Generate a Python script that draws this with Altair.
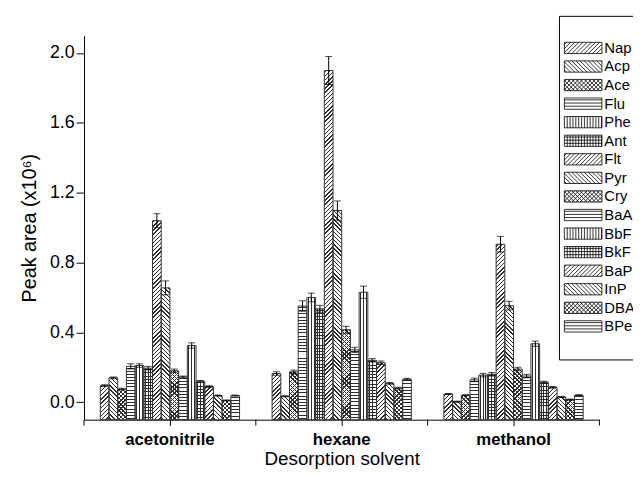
import altair as alt

# ---------------- data ----------------
solvents = ["acetonitrile", "hexane", "methanol"]
compounds = ["Nap", "Acp", "Ace", "Flu", "Phe", "Ant", "Flt", "Pyr",
             "Cry", "BaA", "BbF", "BkF", "BaP", "InP", "DBA", "BPe"]

acetonitrile = [0.095, 0.14, 0.075, 0.205, 0.21, 0.195, 1.04, 0.655,
                0.18, 0.145, 0.325, 0.12, 0.09, 0.038, 0.01, 0.038]
hexane = [0.164, 0.034, 0.174, 0.551, 0.60, 0.535, 1.90, 1.098,
          0.415, 0.30, 0.63, 0.24, 0.226, 0.108, 0.081, 0.132]
methanol = [0.047, 0.003, 0.04, 0.128, 0.155, 0.16, 0.905, 0.553,
            0.19, 0.15, 0.335, 0.115, 0.085, 0.03, 0.015, 0.04]

err_acetonitrile = [0.005, 0.005, 0.005, 0.015, 0.01, 0.01, 0.04, 0.04,
                    0.01, 0.005, 0.015, 0.005, 0.005, 0.003, 0.003, 0.003]
err_hexane = [0.01, 0.003, 0.01, 0.03, 0.025, 0.02, 0.08, 0.055,
              0.02, 0.015, 0.035, 0.01, 0.01, 0.005, 0.005, 0.005]
err_methanol = [0.003, 0.003, 0.003, 0.01, 0.01, 0.01, 0.045, 0.025,
                0.01, 0.01, 0.015, 0.005, 0.005, 0.003, 0.003, 0.003]

y_ticks = [0.0, 0.2, 0.4, 0.6, 0.8, 1.0, 1.2, 1.4, 1.6, 1.8, 2.0]

# hatch style of each compound
hatch = ["/", "\\", "x", "-", "|", "+", "/", "\\", "x", "-", "|", "+",
         "/", "\\", "x", "-"]

# ---------------- layout / style ----------------
W, H = 522, 389
Y_MIN, Y_MAX = -0.1, 2.1
PO = 0.87                      # outer padding of the compound offset scale
offset_domain = ["_padL"] + compounds + ["_padR"]
BAR_W = (W / 3) / (len(offset_domain) + 2 * PO)
INK = "#2e2e2e"
CLEAR = "rgba(255,255,255,0)"
DP, DLW = 4.2, 1.4            # diagonal period / width (in x+y units)
HP, HLW = 3.2, 1.0
VP, VLW = 2.9, 1.0
FONT = "Liberation Sans"


def stripes(L, period, lw):
    stops = [{"offset": 0, "color": CLEAR}]
    c = period / 2
    while c < L:
        a = max(0.0, (c - lw / 2) / L)
        b = min(1.0, (c + lw / 2) / L)
        stops += [{"offset": round(a, 5), "color": CLEAR},
                  {"offset": round(a, 5), "color": INK},
                  {"offset": round(b, 5), "color": INK},
                  {"offset": round(b, 5), "color": CLEAR}]
        c += period
    stops.append({"offset": 1, "color": CLEAR})
    return stops


def grad(kind, w, h):
    if kind == "-":
        return {"gradient": "linear", "x1": 0, "y1": 0, "x2": 0, "y2": 1,
                "stops": stripes(h, HP, HLW)}
    if kind == "|":
        return {"gradient": "linear", "x1": 0, "y1": 0, "x2": 1, "y2": 0,
                "stops": stripes(w, VP, VLW)}
    s = (w + h) / (w * w + h * h)
    if kind == "/":
        return {"gradient": "linear", "x1": 0, "y1": 0,
                "x2": round(s * w, 6), "y2": round(s * h, 6),
                "stops": stripes(w + h, DP, DLW)}
    return {"gradient": "linear", "x1": 0, "y1": 1,
            "x2": round(s * w, 6), "y2": round(1 - s * h, 6),
            "stops": stripes(w + h, DP, DLW)}


def layers(kind, w, h):
    if kind == "x":
        return grad("/", w, h), grad("\\", w, h)
    if kind == "+":
        return grad("-", w, h), grad("|", w, h)
    return grad(kind, w, h), None


rows = []
for s, vals, errs in zip(solvents, [acetonitrile, hexane, methanol],
                         [err_acetonitrile, err_hexane, err_methanol]):
    for i, c in enumerate(compounds):
        v, e = vals[i], errs[i]
        hpx = (v - Y_MIN) / (Y_MAX - Y_MIN) * H
        g1, g2 = layers(hatch[i], BAR_W, hpx)
        rows.append({"solvent": s, "compound": c, "value": v,
                     "lo": round(v - e, 4), "hi": round(v + e, 4),
                     "g1": g1, "g2": g2})


# legend swatches as custom symbol paths (6 px per unit at size 144)
def swatch_path(kind):
    x0, x1, y0, y1 = -27.0, 11.0, -5.7, 5.7
    u = 6.0
    segs = []

    def seg(ax, ay, bx, by):
        segs.append("M%.3f,%.3fL%.3f,%.3f" % (ax / u, ay / u, bx / u, by / u))

    if kind in ("/", "x"):
        c = x0 + y0 + DP / 2
        while c < x1 + y1:
            xa, xb = max(x0, c - y1), min(x1, c - y0)
            if xa < xb:
                seg(xa, c - xa, xb, c - xb)
            c += DP
    if kind in ("\\", "x"):
        c = x0 - y1 + DP / 2
        while c < x1 - y0:
            xa, xb = max(x0, c + y0), min(x1, c + y1)
            if xa < xb:
                seg(xa, xa - c, xb, xb - c)
            c += DP
    if kind in ("-", "+"):
        y = y0 + HP / 2 + 0.3
        while y < y1:
            seg(x0, y, x1, y)
            y += HP
    if kind in ("|", "+"):
        x = x0 + VP
        while x < x1:
            seg(x, y0, x, y1)
            x += VP
    rect = "M%.3f,%.3fL%.3f,%.3fL%.3f,%.3fL%.3f,%.3fZ" % (
        x0 / u, y0 / u, x1 / u, y0 / u, x1 / u, y1 / u, x0 / u, y1 / u)
    return rect + "".join(segs)


paths = [swatch_path(k) for k in hatch]

# ---------------- encodings ----------------
x_axis = alt.Axis(labelFontSize=17, labelFontWeight="bold", labelAngle=0,
                  labelPadding=6, tickSize=6, title="Desorption solvent",
                  titleFontSize=19, titleFontWeight="normal", titlePadding=2,
                  domainColor="black", tickColor="black", labelColor="black",
                  titleColor="black", grid=False)
y_axis = alt.Axis(values=y_ticks, labelOverlap=False,
                  labelExpr="round(datum.value*10) % 4 === 0 ? format(datum.value, '.1f') : ''",
                  tickSize={"condition": {"test": "round(datum.value*10) % 4 === 0", "value": 8},
                            "value": 5},
                  labelFontSize=18, labelPadding=2, title="Peak area (x10\u2076)",
                  titleFontSize=20, titleFontWeight="normal", titlePadding=10,
                  domainColor="black", tickColor="black", labelColor="black",
                  titleColor="black", grid=False)

x_scale = alt.Scale(domain=solvents, paddingInner=0, paddingOuter=0)
y_scale = alt.Scale(domain=[Y_MIN, Y_MAX], nice=False, zero=False)


def X(**kw):
    return alt.X("solvent:N", sort=solvents, scale=x_scale, axis=x_axis, **kw)


XO = alt.XOffset("compound:N",
                 scale=alt.Scale(domain=offset_domain, paddingInner=0, paddingOuter=PO))


def Y(field):
    return alt.Y(field, type="quantitative", stack=None, scale=y_scale, axis=y_axis)


data = alt.Data(values=rows)
base = alt.Chart(data)

white = base.mark_bar(fill="white").encode(
    x=X(), xOffset=XO, y=Y("value"), y2=alt.datum(Y_MIN))
hatch1 = base.mark_bar().encode(
    x=X(), xOffset=XO, y=Y("value"), y2=alt.datum(Y_MIN),
    fill=alt.Fill("g1:N", scale=None))
hatch2 = base.transform_filter("datum.g2 != null").mark_bar().encode(
    x=X(), xOffset=XO, y=Y("value"), y2=alt.datum(Y_MIN),
    fill=alt.Fill("g2:N", scale=None))
outline = base.mark_bar(fill="transparent", stroke="#333333", strokeWidth=1).encode(
    x=X(), xOffset=XO, y=Y("value"), y2=alt.datum(Y_MIN))
err_rule = base.mark_rule(color="black", strokeWidth=1).encode(
    x=X(), xOffset=XO, y=Y("lo"), y2=alt.Y2("hi"))
cap_hi = base.mark_tick(color="black", thickness=1, size=7).encode(
    x=X(), xOffset=XO, y=Y("hi"))
cap_lo = base.mark_tick(color="black", thickness=1, size=7).encode(
    x=X(), xOffset=XO, y=Y("lo"))

legend_layer = base.transform_filter("false").mark_point(
    filled=False, color="black", strokeWidth=0.8, opacity=1).encode(
    x=X(), xOffset=XO, y=Y("value"),
    shape=alt.Shape("compound:N", sort=compounds,
                    scale=alt.Scale(domain=compounds, range=paths),
                    legend=alt.Legend(orient="none", legendX=481, legendY=-20,
                                      title=None, strokeColor="black", padding=25,
                                      labelFontSize=15, labelFont=FONT,
                                      labelColor="black", labelOffset=6,
                                      symbolSize=144, symbolStrokeWidth=0.8,
                                      symbolStrokeColor="black",
                                      symbolFillColor="transparent",
                                      symbolOpacity=1, rowPadding=2.8)))

# group boundary ticks on the x axis
bounds = alt.Chart(alt.Data(values=[{"solvent": s} for s in solvents]))
tick_len = 6 / H * (Y_MAX - Y_MIN)
btick = bounds.mark_rule(color="black").encode(
    x=X(bandPosition=0), y=alt.datum(Y_MIN), y2=alt.datum(Y_MIN - tick_len))
btick_end = bounds.transform_filter("datum.solvent == 'methanol'").mark_rule(
    color="black").encode(
    x=X(bandPosition=1), y=alt.datum(Y_MIN), y2=alt.datum(Y_MIN - tick_len))

chart = alt.layer(white, hatch1, hatch2, outline, err_rule, cap_hi, cap_lo,
                  legend_layer, btick, btick_end).properties(
    width=W, height=H, autosize="none",
    padding={"left": 77, "top": 25, "right": 34, "bottom": 47},
).configure(font=FONT).configure_view(stroke=None)

chart.save("out.html", embed_options={"renderer": "svg", "actions": False})
